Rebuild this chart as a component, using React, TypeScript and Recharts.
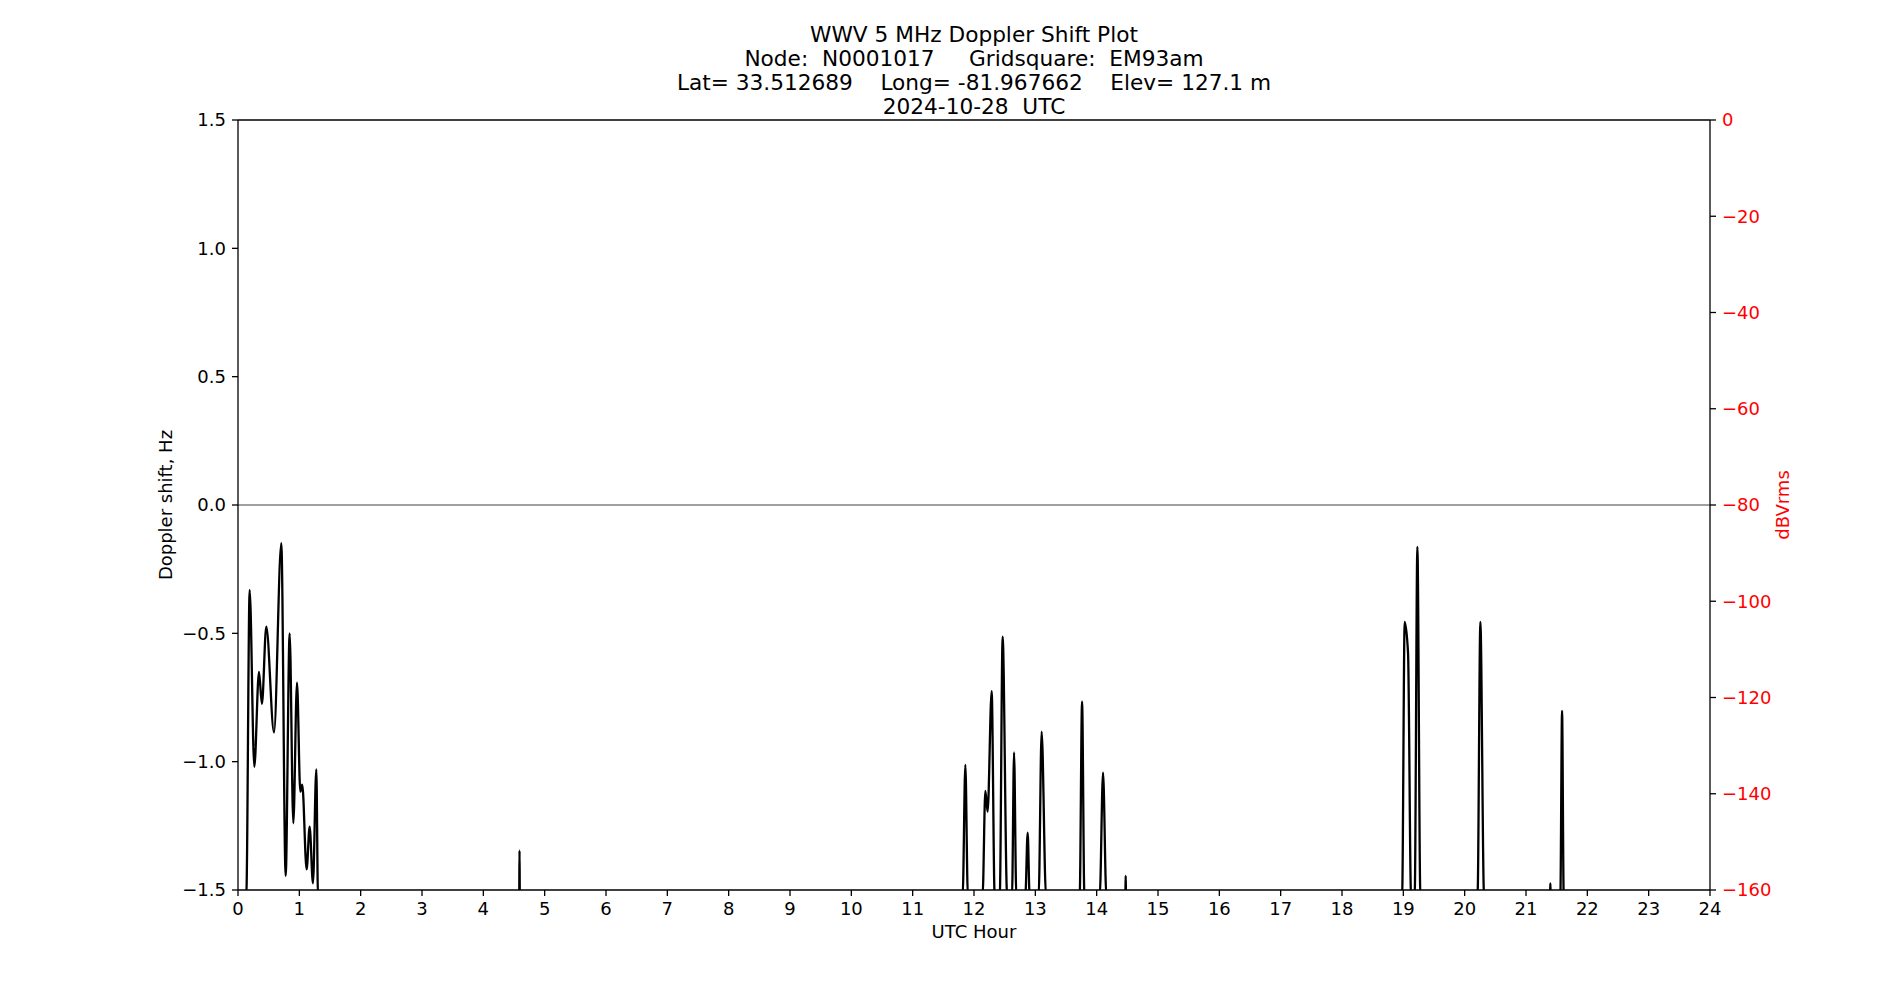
import React from 'react';
import { LineChart, Line, XAxis, YAxis, ReferenceLine } from 'recharts';

const B = -1.52;

const hours: number[] = [
  0, 0.135, 0.19, 0.266, 0.342, 0.39, 0.461, 0.587, 0.706, 0.777, 0.842, 0.902, 0.962, 1.016, 1.048, 1.119, 1.168, 1.222, 1.277, 1.304,
  4.585, 4.59, 4.595,
  11.815, 11.859, 11.9,
  12.14, 12.185, 12.222, 12.288, 12.337,
  12.42, 12.467, 12.54,
  12.62, 12.653, 12.69,
  12.837, 12.875, 12.907,
  13.054, 13.103, 13.174,
  13.723, 13.762, 13.8,
  14.05, 14.104, 14.158,
  14.468, 14.473, 14.478,
  18.98, 19.022, 19.077, 19.126,
  19.185, 19.229, 19.278,
  20.21, 20.256, 20.316,
  21.392, 21.397, 21.402,
  21.56, 21.588, 21.615,
  24,
];

const doppler: number[] = [
  B, B, -0.331, -1.02, -0.65, -0.775, -0.474, -0.886, -0.149, -1.445, -0.5, -1.24, -0.692, -1.117, -1.09, -1.42, -1.253, -1.474, -1.03, B,
  B, -1.347, B,
  B, -1.013, B,
  B, -1.114, -1.195, -0.725, B,
  B, -0.513, B,
  B, -0.964, B,
  B, -1.277, B,
  B, -0.883, B,
  B, -0.766, B,
  B, -1.043, B,
  B, -1.445, B,
  B, -0.455, -0.578, B,
  B, -0.163, B,
  B, -0.455, B,
  B, -1.474, B,
  B, -0.802, B,
  B,
];

const xTicks: number[] = [0, 1, 2, 3, 4, 5, 6, 7, 8, 9, 10, 11, 12, 13, 14, 15, 16, 17, 18, 19, 20, 21, 22, 23, 24];
const leftTicks: number[] = [1.5, 1.0, 0.5, 0.0, -0.5, -1.0, -1.5];
const rightTicks: number[] = [0, -20, -40, -60, -80, -100, -120, -140, -160];

const titleLines: string[] = [
  'WWV 5 MHz Doppler Shift Plot',
  'Node:  N0001017     Gridsquare:  EM93am',
  'Lat= 33.512689    Long= -81.967662    Elev= 127.1 m',
  '2024-10-28  UTC',
];
const xLabel = 'UTC Hour';
const leftLabel = 'Doppler shift, Hz';
const rightLabel = 'dBVrms';

const data = hours.map((h, i) => ({ h, d: doppler[i] }));

const FONT = 'DejaVu Sans';
const TICK_FS = 18;
const minus = (s: string) => s.replace('-', '\u2212');

export default function App() {
  return (
    <div style={{ position: 'absolute', left: 0, top: 0, width: 1900, height: 1000, background: '#fff', fontFamily: FONT }}>
      <LineChart
        width={1900}
        height={1000}
        data={data}
        margin={{ top: 120, right: 110, bottom: 70, left: 158 }}
      >
        <XAxis
          dataKey="h"
          type="number"
          domain={[0, 24]}
          ticks={xTicks}
          interval={0}
          height={40}
          tickSize={6}
          tickMargin={6}
          axisLine={{ stroke: '#000', strokeWidth: 1.3 }}
          tickLine={{ stroke: '#000', strokeWidth: 1.3 }}
          tick={{ fill: '#000', fontSize: TICK_FS, fontFamily: FONT }}
          allowDataOverflow
        />
        <YAxis
          yAxisId="left"
          type="number"
          domain={[-1.5, 1.5]}
          ticks={leftTicks}
          interval={0}
          width={80}
          tickSize={6}
          tickMargin={6}
          allowDataOverflow
          axisLine={{ stroke: '#000', strokeWidth: 1.3 }}
          tickLine={{ stroke: '#000', strokeWidth: 1.3 }}
          tick={{ fill: '#000', fontSize: TICK_FS, fontFamily: FONT }}
          tickFormatter={(v: number) => minus(v.toFixed(1))}
        />
        <YAxis
          yAxisId="right"
          orientation="right"
          type="number"
          domain={[-160, 0]}
          ticks={rightTicks}
          interval={0}
          width={80}
          tickSize={6}
          tickMargin={6}
          allowDataOverflow
          axisLine={{ stroke: '#000', strokeWidth: 1.3 }}
          tickLine={{ stroke: '#000', strokeWidth: 1.3 }}
          tick={{ fill: '#ff0000', fontSize: TICK_FS, fontFamily: FONT }}
          tickFormatter={(v: number) => minus(String(v))}
        />
        <ReferenceLine yAxisId="left" y={0} stroke="#808080" strokeWidth={1.3} />
        <ReferenceLine yAxisId="left" y={1.5} stroke="#000" strokeWidth={1.3} />
        <Line
          yAxisId="left"
          type="monotone"
          dataKey="d"
          stroke="#000"
          strokeWidth={2.3}
          dot={false}
          activeDot={false}
          isAnimationActive={false}
        />
      </LineChart>
      <svg
        width={1900}
        height={1000}
        style={{ position: 'absolute', left: 0, top: 0, pointerEvents: 'none' }}
      >
        {titleLines.map((t, i) => (
          <text
            key={i}
            x={974}
            y={41.7 + i * 24.1}
            textAnchor="middle"
            fontFamily={FONT}
            fontSize={21.67}
            fill="#000"
            style={{ whiteSpace: 'pre' }}
          >
            {t}
          </text>
        ))}
        <text x={974} y={938} textAnchor="middle" fontFamily={FONT} fontSize={TICK_FS} fill="#000">
          {xLabel}
        </text>
        <text
          x={172}
          y={505}
          textAnchor="middle"
          fontFamily={FONT}
          fontSize={TICK_FS}
          fill="#000"
          transform="rotate(-90 172 505)"
        >
          {leftLabel}
        </text>
        <text
          x={1789}
          y={505}
          textAnchor="middle"
          fontFamily={FONT}
          fontSize={TICK_FS}
          fill="#ff0000"
          transform="rotate(-90 1789 505)"
        >
          {rightLabel}
        </text>
      </svg>
    </div>
  );
}
